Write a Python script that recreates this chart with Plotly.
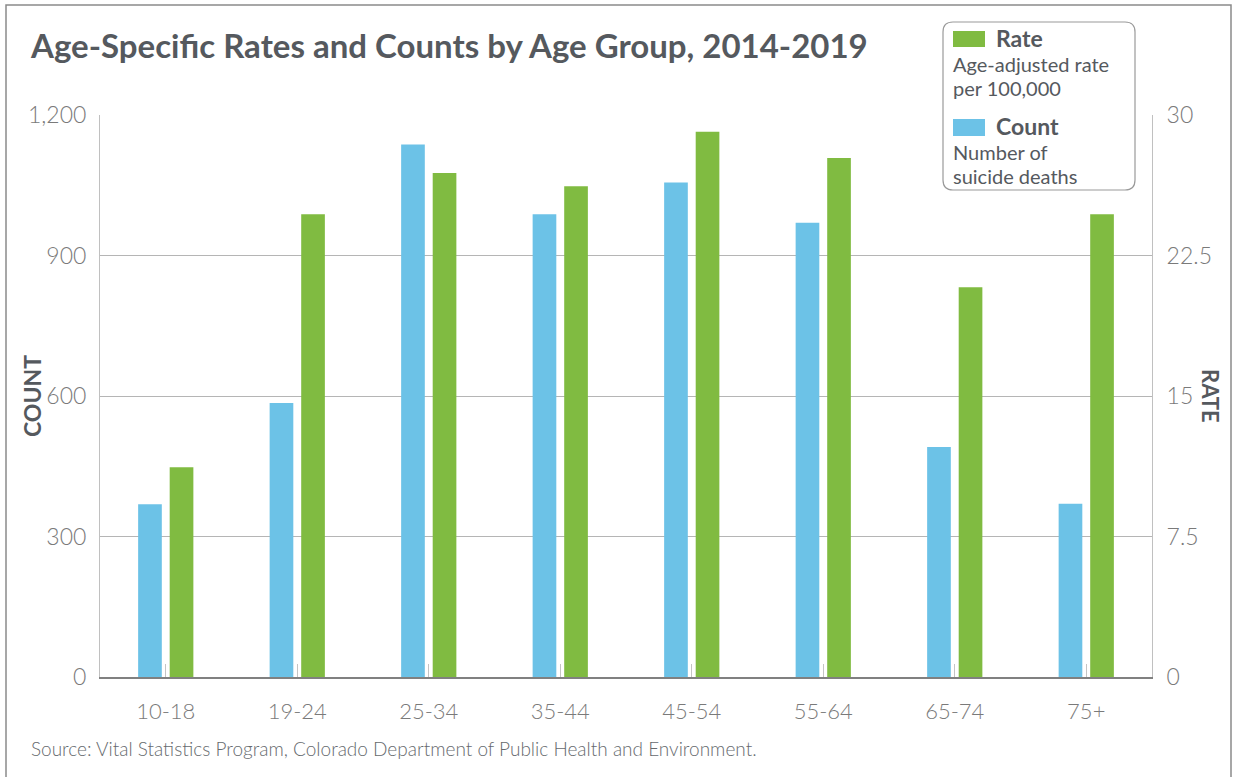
import plotly.graph_objects as go

# ---- data ----
age_groups = ["10-18", "19-24", "25-34", "35-44", "45-54", "55-64", "65-74", "75+"]
counts = [369, 585, 1137, 988, 1056, 970, 491, 370]
rates = [11.2, 24.7, 26.9, 26.2, 29.1, 27.7, 20.8, 24.7]
count_ticks = [0, 300, 600, 900, 1200]
count_tick_text = ["0", "300", "600", "900", "1,200"]
rate_ticks = [0, 7.5, 15, 22.5, 30]
rate_tick_text = ["0", "7.5", "15", "22.5", "30"]

# ---- style ----
W, H = 1235, 777
L, R, T, B = 100, 1152, 115, 677
BLUE = "#6cc2e7"
GREEN = "#80bb41"
TXT = "#55595e"
TICK = "#7a7a7a"
FONT = "Lato"


def px(x):
    return (x - L) / (R - L)


def py(y):
    return (B - y) / (B - T)


fig = go.Figure()
fig.add_trace(go.Bar(x=age_groups, y=counts, name="Count", marker_color=BLUE,
                     width=0.18, offset=-0.21, yaxis="y", showlegend=False,
                     marker_line_width=0))
fig.add_trace(go.Bar(x=age_groups, y=rates, name="Rate", marker_color=GREEN,
                     width=0.18, offset=0.03, yaxis="y2", showlegend=False,
                     marker_line_width=0))

fig.update_layout(
    width=W, height=H,
    margin=dict(l=L, r=W - R, t=T, b=H - B, pad=0),
    paper_bgcolor="white", plot_bgcolor="white",
    barmode="overlay",
    font=dict(family=FONT, color=TICK),
    xaxis=dict(
        type="category", range=[-0.5, 7.5],
        showline=True, linecolor="#808080", linewidth=1.5,
        ticks="inside", ticklen=13, tickcolor="#c4c4c4", tickwidth=1,
        tickfont=dict(size=22, color=TICK, family=FONT, weight=300),
        ticklabelstandoff=14,
        showgrid=False, zeroline=False,
    ),
    yaxis=dict(
        range=[0, 1200], tickvals=count_ticks, ticktext=count_tick_text,
        showgrid=True, gridcolor="#b5b5b5", gridwidth=1,
        showline=True, linecolor="#c0c0c0", linewidth=1,
        ticks="", tickfont=dict(size=23, color=TICK, family=FONT, weight=300),
        ticklabelstandoff=8, zeroline=False,
    ),
    yaxis2=dict(
        range=[0, 30], tickvals=rate_ticks, ticktext=rate_tick_text,
        overlaying="y", side="right", showgrid=False,
        showline=True, linecolor="#c0c0c0", linewidth=1,
        ticks="", tickfont=dict(size=23, color=TICK, family=FONT, weight=300),
        ticklabelstandoff=9, zeroline=False,
    ),
)

shapes = []
# outer border
shapes.append(dict(type="rect", xref="paper", yref="paper",
                   x0=px(6), x1=px(1231), y0=py(790), y1=py(5),
                   line=dict(color="#8a8a8a", width=1.5), layer="below"))


def rounded_path(x0, y0, x1, y1, r):
    pts = [
        ("M", [(x0 + r, y0)]),
        ("L", [(x1 - r, y0)]),
        ("Q", [(x1, y0), (x1, y0 + r)]),
        ("L", [(x1, y1 - r)]),
        ("Q", [(x1, y1), (x1 - r, y1)]),
        ("L", [(x0 + r, y1)]),
        ("Q", [(x0, y1), (x0, y1 - r)]),
        ("L", [(x0, y0 + r)]),
        ("Q", [(x0, y0), (x0 + r, y0)]),
    ]
    s = ""
    for cmd, ps in pts:
        s += cmd + " ".join(f"{px(a):.5f},{py(b):.5f}" for a, b in ps) + " "
    return s + "Z"


shapes.append(dict(type="path", xref="paper", yref="paper",
                   path=rounded_path(943, 22, 1135, 190, 10),
                   fillcolor="white", line=dict(color="#9a9a9a", width=1.2),
                   layer="above"))
shapes.append(dict(type="rect", xref="paper", yref="paper",
                   x0=px(953), x1=px(985), y0=py(47), y1=py(31),
                   fillcolor=GREEN, line=dict(width=0), layer="above"))
shapes.append(dict(type="rect", xref="paper", yref="paper",
                   x0=px(953), x1=px(985), y0=py(136), y1=py(119),
                   fillcolor=BLUE, line=dict(width=0), layer="above"))
fig.update_layout(shapes=shapes)

ann = []


def add_text(text, x, y, size, color=TXT, xanchor="left", angle=0, weight=None):
    f = dict(size=size, color=color, family=FONT)
    if weight is not None:
        f["weight"] = weight
    ann.append(dict(text=text, x=px(x), y=py(y), xref="paper", yref="paper",
                    xanchor=xanchor, yanchor="middle", showarrow=False,
                    textangle=angle, font=f, borderpad=0))


add_text("Age-Specific Rates and Counts by Age Group, 2014-2019", 29, 45, 33, weight=700)
add_text("COUNT", 32, 396, 23, xanchor="center", angle=-90, weight=700)
add_text("RATE", 1211, 396, 22, xanchor="center", angle=90, weight=700)
add_text("Rate", 995, 38, 23, weight=700)
add_text("Age-adjusted rate", 952, 64, 20)
add_text("per 100,000", 952, 88, 20)
add_text("Count", 995, 126, 23, weight=700)
add_text("Number of", 952, 152, 20)
add_text("suicide deaths", 952, 176, 20)
add_text("Source: Vital Statistics Program, Colorado Department of Public Health and Environment.",
         30, 748, 19, color="#666a6e", weight=300)
fig.update_layout(annotations=ann)

fig.write_html("out.html", config={"displayModeBar": False},
               post_script="document.body.style.margin='0';document.body.style.overflow='hidden';")
